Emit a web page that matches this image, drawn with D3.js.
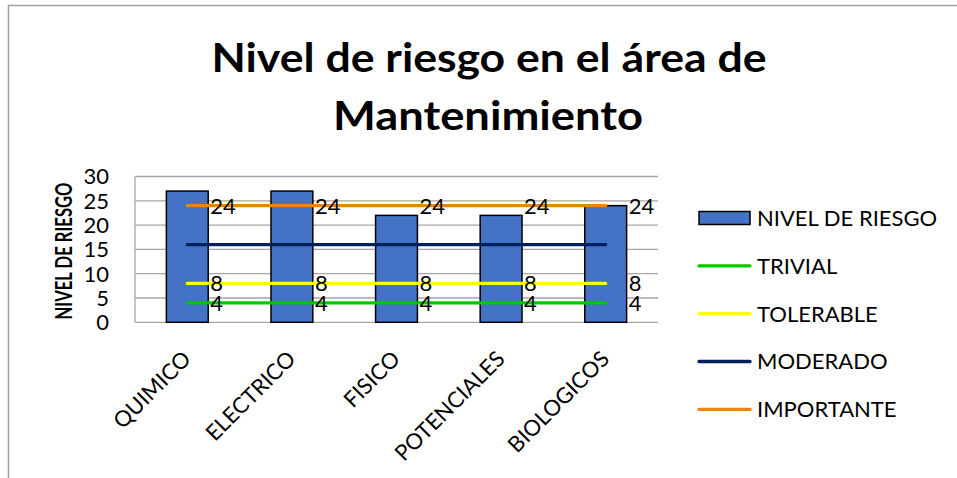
<!DOCTYPE html>
<html>
<head>
<meta charset="utf-8">
<script src="https://cdn.jsdelivr.net/npm/d3@7"></script>
<style>
  body { margin: 0; background: #fff; }
  svg { display: block; font-family: Lato, 'Open Sans', sans-serif; }
</style>
</head>
<body>
<svg id="chart" width="957" height="478"></svg>
<script>
const categories = ['QUIMICO', 'ELECTRICO', 'FISICO', 'POTENCIALES', 'BIOLOGICOS']
const nivelRiesgo = [27, 27, 22, 22, 24]
const trivial = [4, 4, 4, 4, 4]
const tolerable = [8, 8, 8, 8, 8]
const moderado = [16, 16, 16, 16, 16]
const importante = [24, 24, 24, 24, 24]
const yTicks = [0, 5, 10, 15, 20, 25, 30]

const lineSeries = [
  { name: 'TRIVIAL', values: trivial, color: '#00c800', label: true },
  { name: 'TOLERABLE', values: tolerable, color: '#ffff00', label: true },
  { name: 'MODERADO', values: moderado, color: '#002060', label: false },
  { name: 'IMPORTANTE', values: importante, color: '#e8870a', label: true }
]

const svg = d3.select('#chart')

// outer chart frame (cut by the picture on right and bottom)
svg.append('rect')
  .attr('x', 8.5).attr('y', 5.5)
  .attr('width', 980).attr('height', 500)
  .attr('fill', 'none')
  .attr('stroke', '#a0a0a0')
  .attr('stroke-width', 1.5)

// title, two lines
const title = svg.append('text')
  .attr('text-anchor', 'middle')
  .attr('font-weight', 'bold')
  .attr('font-size', 41)
title.append('tspan').attr('x', 489).attr('y', 72)
  .attr('textLength', 555).attr('lengthAdjust', 'spacingAndGlyphs')
  .text('Nivel de riesgo en el área de')
title.append('tspan').attr('x', 488).attr('y', 130)
  .attr('textLength', 310).attr('lengthAdjust', 'spacingAndGlyphs')
  .text('Mantenimiento')

const x = d3.scaleBand()
  .domain(categories)
  .range([135, 658])
  .paddingInner(0.6)
  .paddingOuter(0.3)

const y = d3.scaleLinear()
  .domain([0, 30])
  .range([322.3, 176.5])

const center = d => x(d) + x.bandwidth() / 2

// gridlines
svg.append('g')
  .selectAll('line')
  .data(yTicks)
  .enter()
  .append('line')
  .attr('x1', 135).attr('x2', 658)
  .attr('y1', d => y(d)).attr('y2', d => y(d))
  .attr('stroke', '#a6a6a6')
  .attr('stroke-width', 1.3)

svg.append('line')
  .attr('x1', 135).attr('x2', 135)
  .attr('y1', y(0)).attr('y2', y(30))
  .attr('stroke', '#a6a6a6')
  .attr('stroke-width', 1.3)

// y tick labels
svg.append('g')
  .selectAll('text')
  .data(yTicks)
  .enter()
  .append('text')
  .attr('x', 109)
  .attr('y', d => y(d))
  .attr('dy', '0.36em')
  .attr('text-anchor', 'end')
  .attr('font-size', 22)
  .text(d => d)

// y axis title
svg.append('text')
  .attr('transform', `translate(72, 251) rotate(-90)`)
  .attr('text-anchor', 'middle')
  .attr('font-weight', 'bold')
  .attr('font-size', 22)
  .attr('textLength', 137)
  .attr('lengthAdjust', 'spacingAndGlyphs')
  .text('NIVEL DE RIESGO')

// bars
svg.append('g')
  .selectAll('rect')
  .data(nivelRiesgo)
  .enter()
  .append('rect')
  .attr('x', (d, i) => x(categories[i]))
  .attr('y', d => y(d))
  .attr('width', x.bandwidth())
  .attr('height', d => y(0) - y(d))
  .attr('fill', '#4472c4')
  .attr('stroke', '#000')
  .attr('stroke-width', 1.5)

// lines
const line = d3.line()
  .x((d, i) => center(categories[i]))
  .y(d => y(d))

svg.append('g')
  .selectAll('path')
  .data(lineSeries)
  .enter()
  .append('path')
  .attr('d', d => line(d.values))
  .attr('fill', 'none')
  .attr('stroke', d => d.color)
  .attr('stroke-width', 3.3)
  .attr('stroke-linecap', 'round')

// data labels
lineSeries.filter(s => s.label).forEach(s => {
  svg.append('g')
    .selectAll('text')
    .data(s.values)
    .enter()
    .append('text')
    .attr('x', (d, i) => center(categories[i]) + 23)
    .attr('y', d => y(d))
    .attr('dy', '0.36em')
    .attr('font-size', 22)
    .text(d => d)
})

// category labels
svg.append('g')
  .selectAll('text')
  .data(categories)
  .enter()
  .append('text')
  .attr('transform', d => `translate(${center(d) + 5}, ${y(0) + 38}) rotate(-45)`)
  .attr('text-anchor', 'end')
  .attr('font-size', 22)
  .text(d => d)

// legend
const legendY = d3.scalePoint()
  .domain(['NIVEL DE RIESGO'].concat(lineSeries.map(s => s.name)))
  .range([218, 409.3])

const legend = svg.append('g')

legend.append('rect')
  .attr('x', 699).attr('y', legendY('NIVEL DE RIESGO') - 6.5)
  .attr('width', 51).attr('height', 13)
  .attr('fill', '#4472c4')
  .attr('stroke', '#000')
  .attr('stroke-width', 1.5)

legend.selectAll('line')
  .data(lineSeries)
  .enter()
  .append('line')
  .attr('x1', 699).attr('x2', 750)
  .attr('y1', d => legendY(d.name)).attr('y2', d => legendY(d.name))
  .attr('stroke', d => d.color)
  .attr('stroke-width', 3.3)
  .attr('stroke-linecap', 'round')

legend.selectAll('text')
  .data(legendY.domain())
  .enter()
  .append('text')
  .attr('x', 757)
  .attr('y', d => legendY(d))
  .attr('dy', '0.36em')
  .attr('font-size', 22)
  .text(d => d)
</script>
</body>
</html>
